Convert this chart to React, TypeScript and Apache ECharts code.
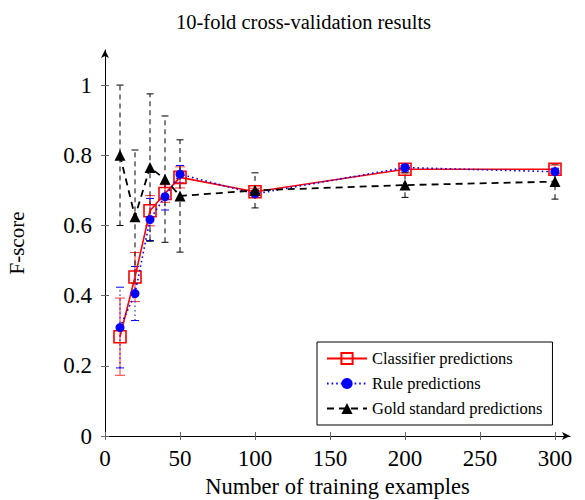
import React, { useEffect, useRef } from "react";
import * as echarts from "echarts";

const trainingSizes = [10, 20, 30, 40, 50, 100, 200, 300];
const classifierScores = [0.283, 0.453, 0.642, 0.691, 0.737, 0.696, 0.76, 0.76];
const classifierErrors = [0.11, 0.07, 0.043, 0.025, 0.03, 0.01, 0.01, 0.012];
const ruleScores = [0.309, 0.406, 0.617, 0.682, 0.746, 0.69, 0.765, 0.753];
const ruleErrors = [0.115, 0.077, 0.06, 0.038, 0.025, 0.01, 0.01, 0.01];
const goldScores = [0.8, 0.625, 0.765, 0.732, 0.684, 0.7, 0.715, 0.725];
const goldErrors = [0.2, 0.19, 0.21, 0.18, 0.16, 0.05, 0.035, 0.05];
const xTickValues = [0, 50, 100, 150, 200, 250, 300];
const yTickValues = [0, 0.2, 0.4, 0.6, 0.8, 1];

const FONT = "Liberation Serif";

function errorSeries(
  name: string,
  values: number[],
  errors: number[],
  color: string,
  dash: number[] | null,
  width: number,
  capHalf: number
) {
  return {
    type: "custom",
    name,
    z: 2,
    silent: true,
    coordinateSystem: "cartesian2d",
    encode: { x: 0, y: [1, 2] },
    data: trainingSizes.map((x, i) => [x, values[i] - errors[i], values[i] + errors[i]]),
    renderItem: (params: any, api: any) => {
      const x = api.value(0);
      const lo = api.coord([x, api.value(1)]);
      const hi = api.coord([x, api.value(2)]);
      const style: any = { stroke: color, lineWidth: width };
      if (dash) style.lineDash = dash;
      const capStyle = { stroke: color, lineWidth: width };
      return {
        type: "group",
        children: [
          { type: "line", shape: { x1: lo[0], y1: lo[1], x2: hi[0], y2: hi[1] }, style },
          { type: "line", shape: { x1: lo[0] - capHalf, y1: lo[1], x2: lo[0] + capHalf, y2: lo[1] }, style: capStyle },
          { type: "line", shape: { x1: hi[0] - capHalf, y1: hi[1], x2: hi[0] + capHalf, y2: hi[1] }, style: capStyle },
        ],
      };
    },
  };
}

export default function App() {
  const ref = useRef<HTMLDivElement>(null);
  useEffect(() => {
    if (!ref.current) return;
    const chart = echarts.init(ref.current, null, { renderer: "svg" });
    const pair = (arr: number[]) => trainingSizes.map((x, i) => [x, arr[i]]);
    const axisCommonX = {
      type: "value",
      min: 0,
      max: 310,
      splitLine: { show: false },
    };
    const axisCommonY = {
      type: "value",
      min: 0,
      max: 1.1,
      splitLine: { show: false },
    };
    chart.setOption({
      animation: false,
      backgroundColor: "#fff",
      textStyle: { fontFamily: FONT },
      title: {
        text: "10-fold cross-validation results",
        left: 171,
        top: 6,
        textStyle: { fontFamily: FONT, fontSize: 20.5, fontWeight: "normal", color: "#000" },
      },
      grid: { left: 105, right: 15, top: 50, bottom: 64, containLabel: false, outerBoundsMode: "none" },
      legend: {
        data: ["Classifier predictions", "Rule predictions", "Gold standard predictions"],
        orient: "vertical",
        left: 317,
        top: 342,
        itemWidth: 40,
        itemHeight: 14,
        itemGap: 8,
        padding: [8, 10, 8, 9],
        borderColor: "#000",
        borderWidth: 1,
        backgroundColor: "#fff",
        textStyle: { fontFamily: FONT, fontSize: 16.5, color: "#000" },
      },
      xAxis: [
        {
          ...axisCommonX,
          name: "Number of training examples",
          nameLocation: "middle",
          nameGap: 38,
          nameTextStyle: { fontFamily: FONT, fontSize: 22.5, color: "#000" },
          axisLine: { show: true, lineStyle: { color: "#000", width: 1 }, symbol: ["none", "arrow"], symbolSize: [6, 8] },
          axisTick: { show: true, inside: false, length: 4, lineStyle: { color: "#666" }, customValues: xTickValues },
          axisLabel: { fontFamily: FONT, fontSize: 23, color: "#000", margin: 11, customValues: xTickValues },
        },
        {
          ...axisCommonX,
          position: "bottom",
          axisLine: { show: false },
          axisTick: { show: true, inside: true, length: 4, lineStyle: { color: "#666" }, customValues: xTickValues },
          axisLabel: { show: false },
        },
      ],
      yAxis: [
        {
          ...axisCommonY,
          name: "F-score",
          nameLocation: "middle",
          nameGap: 78,
          nameTextStyle: { fontFamily: FONT, fontSize: 21, color: "#000" },
          axisLine: { show: true, lineStyle: { color: "#000", width: 1 }, symbol: ["none", "arrow"], symbolSize: [6, 8] },
          axisTick: { show: true, inside: false, length: 4, lineStyle: { color: "#666" }, customValues: yTickValues },
          axisLabel: { fontFamily: FONT, fontSize: 23, color: "#000", margin: 13, customValues: yTickValues },
        },
        {
          ...axisCommonY,
          position: "left",
          axisLine: { show: false },
          axisTick: { show: true, inside: true, length: 4, lineStyle: { color: "#666" }, customValues: yTickValues },
          axisLabel: { show: false },
        },
      ],
      series: [
        errorSeries("classifierErr", classifierScores, classifierErrors, "#ff3333", null, 1, 5),
        errorSeries("ruleErr", ruleScores, ruleErrors, "#0000ff", [1.5, 3], 1, 4),
        errorSeries("goldErr", goldScores, goldErrors, "#000", [5, 4], 1, 3.5),
        {
          type: "line",
          name: "Classifier predictions",
          z: 3,
          data: pair(classifierScores),
          symbol: "rect",
          symbolSize: 12,
          lineStyle: { color: "#ff0000", width: 1.6, type: "solid" },
          itemStyle: { color: "rgba(255,255,255,0)", borderColor: "#ff0000", borderWidth: 1.6 },
        },
        {
          type: "line",
          name: "Rule predictions",
          z: 4,
          data: pair(ruleScores),
          symbol: "circle",
          symbolSize: 9,
          lineStyle: { color: "#0000ff", width: 1.6, type: [1.6, 3] },
          itemStyle: { color: "#0000ff" },
        },
        {
          type: "line",
          name: "Gold standard predictions",
          z: 5,
          data: pair(goldScores),
          symbol: "triangle",
          symbolSize: 11,
          lineStyle: { color: "#000", width: 1.8, type: [7, 5] },
          itemStyle: { color: "#000" },
        },
      ],
    });
    return () => chart.dispose();
  }, []);
  return <div ref={ref} style={{ position: "absolute", left: 0, top: 0, width: 585, height: 500 }} />;
}
